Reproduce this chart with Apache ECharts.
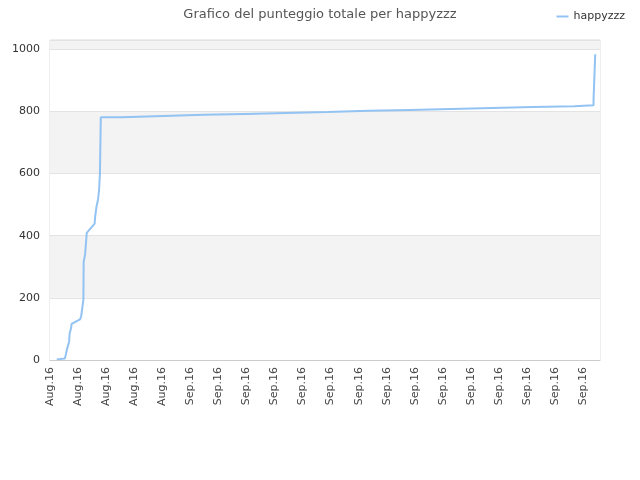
<!DOCTYPE html>
<html><head><meta charset="utf-8">
<script src="https://cdn.jsdelivr.net/npm/echarts@6/dist/echarts.min.js"></script>
<style>html,body{margin:0;padding:0;background:#fff}#c{width:640px;height:480px}</style>
</head><body><div id="c"></div>
<script>
var tickLabels = ['Aug.16','Aug.16','Aug.16','Aug.16','Aug.16','Sep.16','Sep.16','Sep.16','Sep.16','Sep.16','Sep.16','Sep.16','Sep.16','Sep.16','Sep.16','Sep.16','Sep.16','Sep.16','Sep.16','Sep.16'];
var seriesName = 'happyzzz';
var xs = [0.24,0.53,0.56,0.60,0.63,0.68,0.70,0.75,0.77,1.07,1.11,1.15,1.19,1.20,1.25,1.31,1.59,1.61,1.66,1.71,1.75,1.78,1.81,2.57,2.57,4.03,4.03,5.49,5.49,6.95,6.95,8.41,8.41,9.88,9.88,11.37,11.37,12.83,12.83,14.30,14.30,15.76,15.76,17.22,17.22,18.68,18.68,19.37,19.37,19.43,19.43];
var ys = [2,5,16,32,43,59,86,102,116,131,140,167,194,317,339,409,439,462,495,516,548,602,781,781,785,785,789,789,792,792,795,795,798,798,802,802,805,805,808,808,811,811,814,814,817,817,820,820,838,838,984];
var points = xs.map(function(x,i){return [x, ys[i]];});
var chart = echarts.init(document.getElementById('c'));
chart.setOption({
  animation:false,
  title:{text:'Grafico del punteggio totale per happyzzz',left:'center',top:3,textStyle:{fontSize:13,fontWeight:'normal',color:'#555',fontFamily:'DejaVu Sans'}},
  legend:{right:10,top:6,itemWidth:12,itemHeight:2,textStyle:{fontSize:11,color:'#333',fontFamily:'DejaVu Sans'},data:[{name:seriesName,icon:'rect'}]},
  grid:{left:50,right:40,top:40,bottom:120,show:true,borderColor:'#ddd',borderWidth:1},
  xAxis:{type:'value',min:0,max:19.6,interval:1,
    axisLine:{show:true,lineStyle:{color:'#ccc'}},axisTick:{show:false},splitLine:{show:false},
    axisLabel:{rotate:90,fontSize:11,color:'#444',fontFamily:'DejaVu Sans',showMaxLabel:false,margin:7,
      formatter:function(v){var i=Math.round(v);return tickLabels[i]||'';}}},
  yAxis:{type:'value',min:0,max:1030,interval:200,
    axisLine:{show:false},axisTick:{show:false},
    axisLabel:{fontSize:11,color:'#333',fontFamily:'DejaVu Sans',showMaxLabel:false,margin:10,
      formatter:function(v){return String(v);}},
    splitLine:{show:true,lineStyle:{color:'#e3e3e3'}},
    splitArea:{show:true,areaStyle:{color:['#ffffff','#f3f3f3']}}},
  series:[{name:seriesName,type:'line',data:points,showSymbol:false,symbol:'none',
    lineStyle:{color:'#92c3f2',width:2},itemStyle:{color:'#92c3f2'}}]
});
</script></body></html>
